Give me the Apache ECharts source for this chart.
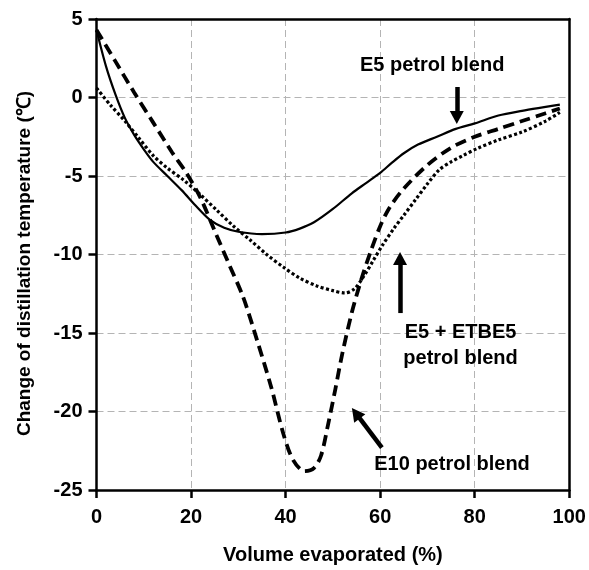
<!DOCTYPE html>
<html>
<head>
<meta charset="utf-8">
<script src="https://cdn.jsdelivr.net/npm/echarts@6/dist/echarts.min.js"></script>
<style>html,body{margin:0;padding:0;background:#fff;}#c{width:589px;height:570px;}</style>
</head>
<body>
<div id="c"></div>
<script>
// E5 petrol blend (solid)
const e5 = [[0,4.3],[2,2.0],[4,0.2],[6,-1.3],[8,-2.4],[10,-3.3],[12,-4.1],[15,-5.0],[18,-5.9],[21,-6.9],[24,-7.8],[27,-8.3],[30,-8.55],[35,-8.7],[40,-8.6],[43,-8.35],[46,-7.95],[50,-7.1],[54,-6.1],[57,-5.45],[60,-4.8],[62.5,-4.15],[65,-3.55],[68,-3.0],[72,-2.5],[76,-2.0],[80,-1.65],[85,-1.15],[90,-0.85],[95,-0.6],[98,-0.45]];
// E10 petrol blend (dashed)
const e10 = [[0,4.3],[4,2.3],[8,0.3],[12,-1.6],[16,-3.5],[19,-4.8],[22,-6.4],[25,-8.5],[28,-10.6],[31,-12.7],[34,-15.5],[37,-18.5],[39.5,-21.4],[41.6,-23.1],[44,-23.8],[46,-23.6],[47.5,-22.8],[49,-20.8],[50.5,-18.6],[52,-16.3],[54,-13.7],[56,-11.6],[58,-9.8],[60,-8.2],[62,-7.0],[65,-5.8],[70,-4.3],[75,-3.2],[80,-2.5],[85,-2.0],[90,-1.5],[95,-1.0],[98,-0.7]];
// E5 + ETBE5 petrol blend (dotted)
const etbe = [[0,0.6],[3,-0.5],[6,-1.5],[9,-2.6],[12,-3.7],[15,-4.5],[18.4,-5.25],[22,-6.2],[25.4,-7.17],[29,-8.2],[32.5,-9.08],[36,-10.0],[39.5,-10.8],[43,-11.5],[46.6,-12.0],[50,-12.3],[52.5,-12.45],[54.5,-12.2],[56.5,-11.4],[58.5,-10.4],[60.5,-9.4],[63,-8.3],[65,-7.5],[67.5,-6.5],[70,-5.5],[72.5,-4.6],[75,-4.1],[77.5,-3.7],[80.5,-3.25],[85,-2.7],[90,-2.2],[95,-1.5],[98,-0.95]];

const xTicks = {min:0, max:100, interval:20};
const yTicks = {min:-25, max:5, interval:5};

// annotations (data coordinates)
const labelE5 = {text:'E5 petrol blend', at:[71.0, 2.07]};
const labelEtbe = {text:'E5 + ETBE5\npetrol blend', at:[77.0, -15.77]};
const labelE10 = {text:'E10 petrol blend', at:[75.2, -23.4]};
const arrowE5 = [[76.2, 0.67],[76.2, -1.28]];
const arrowEtbe = [[64.2, -13.73],[64.2, -10.25]];
const arrowE10 = [[60.36, -22.3],[54.85, -20.11]];

const FONT = '"Liberation Sans", Arial, sans-serif';
const chart = echarts.init(document.getElementById('c'), null, {renderer:'canvas'});

function arrowLine(a){
  return {
    silent:true, symbol:['none','triangle'], symbolSize:[14,13],
    lineStyle:{color:'#000', width:4.5, type:'solid'},
    label:{show:false},
    data:[[{coord:a[0]},{coord:a[1]}]]
  };
}
function textPoint(l){
  return {
    silent:true, symbol:'circle', symbolSize:0,
    label:{show:true, position:'inside', formatter:l.text, color:'#000', fontFamily:FONT, fontWeight:'bold', fontSize:20, lineHeight:26, align:'center'},
    data:[{coord:l.at}]
  };
}
const frameAxis = {axisLine:{show:true, onZero:false, lineStyle:{color:'#000', width:2.5}}, axisTick:{show:false}, axisLabel:{show:false}, splitLine:{show:false}};

chart.setOption({
  animation:false,
  backgroundColor:'#fff',
  grid:{left:96.5, right:19.7, top:19, bottom:80},
  xAxis:[{
    type:'value', min:xTicks.min, max:xTicks.max, interval:xTicks.interval, position:'bottom',
    name:'Volume evaporated (%)', nameLocation:'middle', nameGap:55,
    nameTextStyle:{color:'#000', fontFamily:FONT, fontWeight:'bold', fontSize:20},
    axisLine:{show:true, onZero:false, lineStyle:{color:'#000', width:2.5}},
    axisTick:{show:true, inside:false, length:8, lineStyle:{color:'#000', width:2.5}},
    axisLabel:{color:'#000', fontFamily:FONT, fontWeight:'bold', fontSize:20, margin:17},
    splitLine:{show:true, lineStyle:{color:'#b4b4b4', width:1, type:[7,4]}}
  }, Object.assign({type:'value', min:xTicks.min, max:xTicks.max, interval:xTicks.interval, position:'top'}, frameAxis)],
  yAxis:[{
    type:'value', min:yTicks.min, max:yTicks.max, interval:yTicks.interval, position:'left',
    name:'Change of distillation temperature (℃)', nameLocation:'middle', nameGap:62,
    nameTextStyle:{color:'#000', fontFamily:FONT, fontWeight:'bold', fontSize:19, padding:[0,18,0,0]},
    axisLine:{show:true, onZero:false, lineStyle:{color:'#000', width:2.5}},
    axisTick:{show:true, inside:false, length:8, lineStyle:{color:'#000', width:2.5}},
    axisLabel:{color:'#000', fontFamily:FONT, fontWeight:'bold', fontSize:20, margin:14},
    splitLine:{show:true, lineStyle:{color:'#b4b4b4', width:1, type:[7,4]}}
  }, Object.assign({type:'value', min:yTicks.min, max:yTicks.max, interval:yTicks.interval, position:'right'}, frameAxis)],
  series:[
    {name:'E5 petrol blend', type:'line', data:e5, smooth:0.3, showSymbol:false, symbol:'none',
     lineStyle:{color:'#000', width:2.2, type:'solid'},
     markLine:arrowLine(arrowE5), markPoint:textPoint(labelE5)},
    {name:'E10 petrol blend', type:'line', data:e10, smooth:0.3, showSymbol:false, symbol:'none',
     lineStyle:{color:'#000', width:3.8, type:[11,6], cap:'butt'},
     markLine:arrowLine(arrowE10), markPoint:textPoint(labelE10)},
    {name:'E5 + ETBE5 petrol blend', type:'line', data:etbe, smooth:0.3, showSymbol:false, symbol:'none',
     lineStyle:{color:'#000', width:3.2, type:[3,2.4], cap:'butt'},
     markLine:arrowLine(arrowEtbe), markPoint:textPoint(labelEtbe)}
  ]
});
</script>
</body>
</html>
